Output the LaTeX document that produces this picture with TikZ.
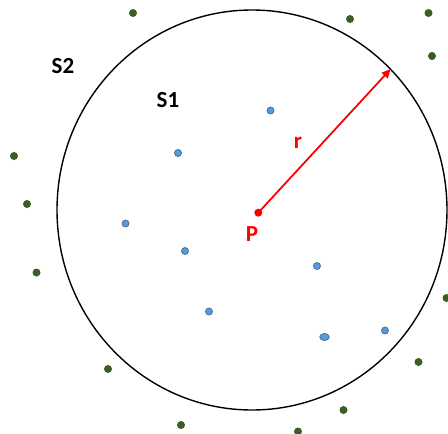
\documentclass[tikz,border=0pt]{standalone}
\usepackage{fontspec}
\setmainfont{Carlito}
\usetikzlibrary{arrows.meta,shapes.geometric}
\definecolor{gdot}{HTML}{3A5F24}
\definecolor{bfill}{HTML}{5B9BD5}
\definecolor{bline}{HTML}{41719C}
\begin{document}
\begin{tikzpicture}[x=1pt,y=-1pt,
  gpt/.style={circle,fill=gdot,inner sep=0pt,minimum size=8pt},
  bpt/.style={circle,fill=bfill,draw=bline,line width=0.8pt,inner sep=0pt,minimum size=7pt},
  lbl/.style={font=\fontsize{23}{26}\selectfont\bfseries,inner sep=0pt},
  rlbl/.style={lbl,text=red}]
\useasboundingbox (0,0) rectangle (448,434);
\node[draw=black,line width=1.4pt,ellipse,minimum width=390pt,minimum height=400pt,inner sep=0pt] (S) at (252,210) {};
% labels
\node[lbl] (s2) at (63,66) {S2};
\node[lbl] (s1) at (168,100) {S1};
% green points
\foreach \n/\x/\y in {g1/133/13, g2/14/156, g3/27/204, g4/350/19, g5/428.5/13, g6/432/56, g7/36.5/272.5, g8/108/369, g9/181/425, g10/446.5/298, g11/418.5/362, g12/343.5/410, g13/298/431.5}
  \node[gpt] (\n) at (\x,\y) {};
% blue points
\foreach \n/\x/\y in {b1/270.5/110.5, b2/178/153, b3/125.5/223.5, b4/185/251, b5/209/311.5, b6/317/266, b8/385/330.5}
  \node[bpt] (\n) at (\x,\y) {};
\node[bpt,ellipse,minimum width=9.5pt,minimum height=7pt] (b7) at (324.5,337) {};
% P and radius
\node[circle,fill=red,inner sep=0pt,minimum size=8pt] (P) at (258.3,212.7) {};
\coordinate (R) at (390.7,69);
\draw[red,line width=1.8pt,-{Triangle[length=9pt,width=8pt]}] (P.center) -- (R);
\node[rlbl] (pl) at (252,234) {P};
\node[rlbl] (rl) at (298,143) {r};
\end{tikzpicture}
\end{document}
